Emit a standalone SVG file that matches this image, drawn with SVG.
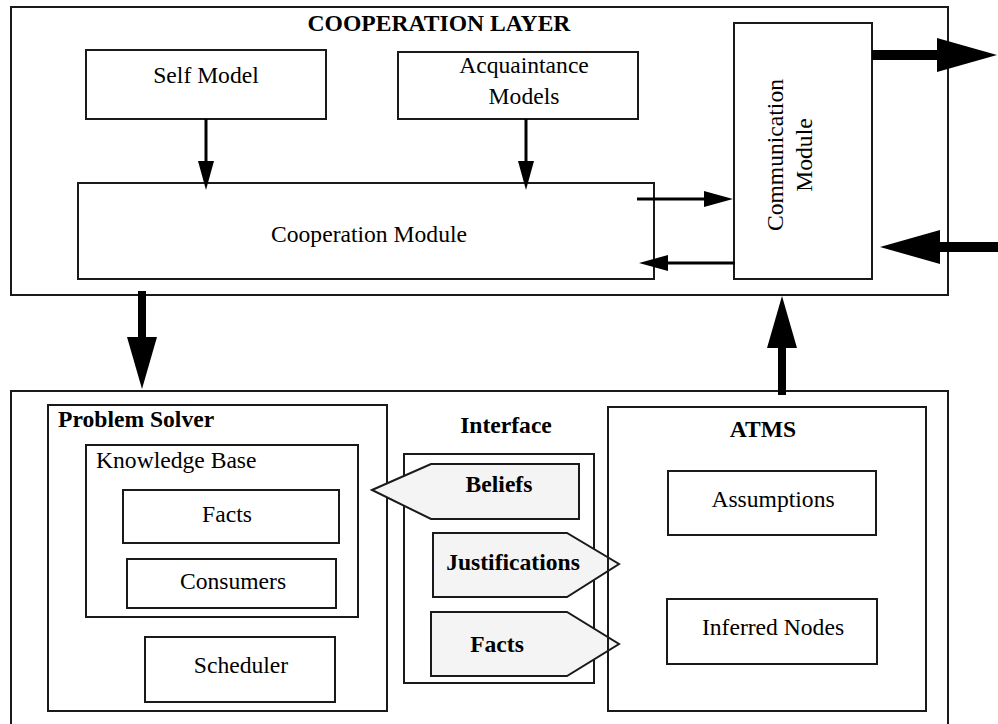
<svg xmlns="http://www.w3.org/2000/svg" width="998" height="724" viewBox="0 0 998 724">
<style>
.box{fill:none;stroke:#1a1a1a;stroke-width:2}
.tag{fill:#f4f4f4;stroke:#1a1a1a;stroke-width:2}
text{font-family:'Liberation Serif','Times New Roman','DejaVu Serif',serif;font-size:23.6px;fill:#000}
.b{font-weight:bold}
.m{text-anchor:middle}
.thin{stroke:#000;stroke-width:3;fill:none}
.thick{stroke:#000;fill:none}
.head{fill:#000;stroke:none}
</style>
<rect width="998" height="724" fill="#fff"/>

<g id="cooperation-layer">
  <rect class="box" x="11" y="7" width="937" height="288"/>
  <text class="b m" x="439" y="31" font-family="Liberation Serif, serif">COOPERATION LAYER</text>
</g>
<g id="self-model">
  <rect class="box" x="86" y="50" width="240" height="69"/>
  <text class="m" x="206" y="83">Self Model</text>
</g>
<g id="acquaintance-models">
  <rect class="box" x="398" y="52" width="240" height="67"/>
  <text class="m" x="524" y="73">Acquaintance</text>
  <text class="m" x="524" y="104">Models</text>
</g>
<g id="cooperation-module">
  <rect class="box" x="78" y="183" width="576" height="96"/>
  <text class="m" x="369" y="242">Cooperation Module</text>
</g>
<g id="communication-module">
  <rect class="box" x="734" y="23" width="138" height="256"/>
  <text class="m" transform="translate(783,155) rotate(-90)">Communication</text>
  <text class="m" transform="translate(812,155) rotate(-90)">Module</text>
</g>

<g id="agent-layer">
  <path class="box" d="M11,730 V391 H948 V730"/>
</g>
<g id="problem-solver">
  <rect class="box" x="48" y="405" width="339" height="306"/>
  <text class="b" x="58" y="427">Problem Solver</text>
</g>
<g id="knowledge-base">
  <rect class="box" x="86" y="445" width="272" height="172"/>
  <text x="96" y="468">Knowledge Base</text>
</g>
<g id="kb-facts">
  <rect class="box" x="123" y="490" width="216" height="53"/>
  <text class="m" x="227" y="522">Facts</text>
</g>
<g id="consumers">
  <rect class="box" x="127" y="559" width="209" height="49"/>
  <text class="m" x="233" y="589">Consumers</text>
</g>
<g id="scheduler">
  <rect class="box" x="145" y="637" width="190" height="65"/>
  <text class="m" x="241" y="673">Scheduler</text>
</g>
<g id="interface">
  <rect class="box" x="404" y="454" width="190" height="229"/>
  <text class="b m" x="506" y="433">Interface</text>
</g>
<g id="beliefs">
  <polygon class="tag" points="372,490 431,464 579,464 579,519 431,519"/>
  <text class="b m" x="499" y="492">Beliefs</text>
</g>
<g id="justifications">
  <polygon class="tag" points="433,533 567,533 619,564 567,597 433,597"/>
  <text class="b m" x="513" y="570">Justifications</text>
</g>
<g id="if-facts">
  <polygon class="tag" points="431,612 567,612 619,644 567,676 431,676"/>
  <text class="b m" x="497" y="652">Facts</text>
</g>
<g id="atms">
  <rect class="box" x="608" y="407" width="318" height="304"/>
  <text class="b m" x="763" y="437">ATMS</text>
</g>
<g id="assumptions">
  <rect class="box" x="668" y="471" width="208" height="64"/>
  <text class="m" x="773" y="507">Assumptions</text>
</g>
<g id="inferred-nodes">
  <rect class="box" x="667" y="599" width="210" height="65"/>
  <text class="m" x="773" y="635">Inferred Nodes</text>
</g>

<g id="connectors">
  <line class="thin" x1="206" y1="119" x2="206" y2="162"/>
  <polygon class="head" points="198,161 214,161 206,190"/>
  <line class="thin" x1="526" y1="119" x2="526" y2="162"/>
  <polygon class="head" points="518,161 534,161 526,190"/>
  <line class="thin" x1="637" y1="199" x2="705" y2="199"/>
  <polygon class="head" points="704,191 733,199 704,207"/>
  <line class="thin" x1="735" y1="263" x2="667" y2="263"/>
  <polygon class="head" points="668,255 639,263 668,271"/>
  <line class="thick" x1="872" y1="55" x2="938" y2="55" stroke-width="10"/>
  <polygon class="head" points="937,38 997,55 937,72"/>
  <line class="thick" x1="998" y1="247" x2="939" y2="247" stroke-width="10"/>
  <polygon class="head" points="940,230 880,247 940,264"/>
  <line class="thick" x1="142" y1="291" x2="142" y2="338" stroke-width="8"/>
  <polygon class="head" points="127,337 157,337 142,389"/>
  <line class="thick" x1="782" y1="395" x2="782" y2="347" stroke-width="8"/>
  <polygon class="head" points="767,348 797,348 782,296"/>
</g>
</svg>
